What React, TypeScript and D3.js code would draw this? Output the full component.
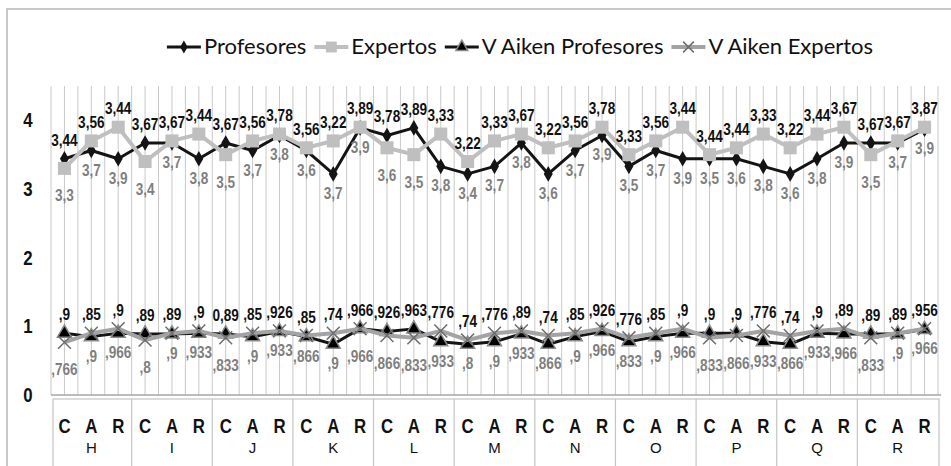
import React from 'react';
import * as d3 from 'd3';

const groups = ['H', 'I', 'J', 'K', 'L', 'M', 'N', 'O', 'P', 'Q', 'R'];
const subCats = ['C', 'A', 'R'];

const profesores = [
  3.44, 3.56, 3.44, 3.67, 3.67, 3.44, 3.67, 3.56, 3.78, 3.56, 3.22, 3.89, 3.78, 3.89, 3.33, 3.22, 3.33,
  3.67, 3.22, 3.56, 3.78, 3.33, 3.56, 3.44, 3.44, 3.44, 3.33, 3.22, 3.44, 3.67, 3.67, 3.67, 3.87
];
const expertos = [
  3.3, 3.7, 3.9, 3.4, 3.7, 3.8, 3.5, 3.7, 3.8, 3.6, 3.7, 3.9, 3.6, 3.5, 3.8, 3.4, 3.7, 3.8, 3.6, 3.7,
  3.9, 3.5, 3.7, 3.9, 3.5, 3.6, 3.8, 3.6, 3.8, 3.9, 3.5, 3.7, 3.9
];
const aikenProfesores = [
  0.9, 0.85, 0.9, 0.89, 0.89, 0.9, 0.89, 0.85, 0.926, 0.85, 0.74, 0.966, 0.926, 0.963, 0.776, 0.74, 0.776,
  0.89, 0.74, 0.85, 0.926, 0.776, 0.85, 0.9, 0.9, 0.9, 0.776, 0.74, 0.9, 0.89, 0.89, 0.89, 0.956
];
const aikenExpertos = [
  0.766, 0.9, 0.966, 0.8, 0.9, 0.933, 0.833, 0.9, 0.933, 0.866, 0.9, 0.966, 0.866, 0.833, 0.933, 0.8, 0.9,
  0.933, 0.866, 0.9, 0.966, 0.833, 0.9, 0.966, 0.833, 0.866, 0.933, 0.866, 0.933, 0.966, 0.833, 0.9, 0.966
];
// one label in the source is written with a leading zero
const aikenProfLabelOverrides: Record<number, string> = { 6: '0,89' };
const yTicks = [0, 1, 2, 3, 4];
const legendNames = ['Profesores', 'Expertos', 'V Aiken Profesores', 'V Aiken Expertos'];

// no narrow face installed: squeeze Liberation Sans horizontally instead
const sans = '"Liberation Sans", Arial, sans-serif';
const squeeze = 0.8;
const at = (px: number, py: number) => `translate(${px},${py}) scale(${squeeze},1)`;

const App: React.FC = () => {
  const ref = React.useRef<HTMLDivElement>(null);

  React.useEffect(() => {
    const W = 951;
    const H = 466;
    const left = 51;
    const right = 938;
    const top = 86;
    const bottom = 395;

    d3.select(ref.current).selectAll('*').remove();
    const svg = d3
      .select(ref.current)
      .append('svg')
      .attr('width', W)
      .attr('height', H)
      .style('display', 'block');

    svg.append('rect').attr('width', W).attr('height', H).attr('fill', '#fff');
    svg
      .append('rect')
      .attr('x', 7)
      .attr('y', 9)
      .attr('width', W + 10)
      .attr('height', H + 10)
      .attr('fill', 'none')
      .attr('stroke', '#b8b8b8')
      .attr('stroke-width', 1.5);

    const cats = d3.range(profesores.length);
    const x = d3.scaleBand<number>().domain(cats).range([left, right]).padding(0);
    const bw = x.bandwidth();
    const cx = (i: number) => (x(i) as number) + bw / 2;
    const y = d3.scaleLinear().domain([0, 4.5]).range([bottom, top]);

    // vertical gridlines (category boundaries and centres)
    svg
      .append('g')
      .selectAll('line')
      .data(d3.range(cats.length * 2 + 1))
      .enter()
      .append('line')
      .attr('x1', (k: number) => left + (k * bw) / 2)
      .attr('x2', (k: number) => left + (k * bw) / 2)
      .attr('y1', y(4.5))
      .attr('y2', y(0))
      .attr('stroke', '#c9c9c9')
      .attr('stroke-width', 1);

    svg
      .append('line')
      .attr('x1', left)
      .attr('x2', right + 3)
      .attr('y1', y(0))
      .attr('y2', y(0))
      .attr('stroke', '#a6a6a6')
      .attr('stroke-width', 1.5);

    // y tick labels
    svg
      .append('g')
      .selectAll('text')
      .data(yTicks)
      .enter()
      .append('text')
      .attr('transform', (d: number) => at(28, y(d) + 7))
      .attr('text-anchor', 'middle')
      .attr('font-family', sans)
      .attr('font-weight', 'bold')
      .attr('font-size', 21)
      .attr('fill', '#111')
      .text((d: number) => String(d));

    // category table
    const tableTop = 399;
    const tg = svg.append('g');
    tg.append('rect')
      .attr('x', left + 2)
      .attr('y', tableTop)
      .attr('width', right - left - 1)
      .attr('height', H)
      .attr('fill', 'none')
      .attr('stroke', '#c4c4c4')
      .attr('stroke-width', 1.2);
    tg.selectAll('line.div')
      .data(d3.range(1, groups.length))
      .enter()
      .append('line')
      .attr('x1', (g: number) => x(g * 3) as number)
      .attr('x2', (g: number) => x(g * 3) as number)
      .attr('y1', tableTop)
      .attr('y2', H)
      .attr('stroke', '#c4c4c4')
      .attr('stroke-width', 1.2);
    tg.selectAll('text.sub')
      .data(cats)
      .enter()
      .append('text')
      .attr('transform', (i: number) => at(cx(i), 433))
      .attr('text-anchor', 'middle')
      .attr('font-family', sans)
      .attr('font-weight', 'bold')
      .attr('font-size', 21)
      .attr('fill', '#111')
      .text((i: number) => subCats[i % 3]);
    tg.selectAll('text.grp')
      .data(groups)
      .enter()
      .append('text')
      .attr('x', (_: string, g: number) => cx(g * 3 + 1))
      .attr('y', 453)
      .attr('text-anchor', 'middle')
      .attr('font-family', sans)
      .attr('font-size', 15)
      .attr('fill', '#111')
      .text((g: string) => g);

    const series = [
      { values: profesores, color: '#141414', width: 3, symbol: d3.symbolDiamond, size: 70, fill: '#141414', edge: 'none' },
      { values: expertos, color: '#bfbfbf', width: 4, symbol: d3.symbolSquare, size: 170, fill: '#bfbfbf', edge: 'none' },
      { values: aikenProfesores, color: '#141414', width: 3, symbol: d3.symbolTriangle, size: 85, fill: '#000', edge: '#8a8a8a' },
      { values: aikenExpertos, color: '#a3a3a3', width: 4, symbol: d3.symbolTimes, size: 110, fill: 'none', edge: '#6e6e6e' }
    ];

    const line = (vals: number[]) =>
      d3
        .line<number>()
        .x((_: number, i: number) => cx(i))
        .y((d: number) => y(d))(vals);

    series.forEach((s) => {
      svg
        .append('path')
        .attr('d', line(s.values))
        .attr('fill', 'none')
        .attr('stroke', s.color)
        .attr('stroke-width', s.width)
        .attr('stroke-linejoin', 'round');
      svg
        .append('g')
        .selectAll('path')
        .data(s.values)
        .enter()
        .append('path')
        .attr('transform', (d: number, i: number) => `translate(${cx(i)},${y(d)})`)
        .attr('d', d3.symbol().type(s.symbol).size(s.size)())
        .attr('fill', s.fill)
        .attr('stroke', s.edge)
        .attr('stroke-width', 1.5);
    });

    const fmtMain = (v: number) => String(v).replace('.', ',');
    const fmtAiken = (v: number) => String(v).replace(/^0\./, ',');

    // labels: black series above the higher point, grey series below the lower point
    const labelPair = (
      upper: number[],
      lower: number[],
      fmt: (v: number) => string,
      overrides: Record<number, string>
    ) => {
      const g = svg.append('g').attr('font-family', sans).attr('font-weight', 'bold').attr('font-size', 17);
      cats.forEach((i: number) => {
        const yu = y(upper[i]);
        const yl = y(lower[i]);
        const high = Math.min(yu, yl);
        const low = Math.max(yu, yl);
        g.append('text')
          .attr('transform', at(cx(i), high - 13))
          .attr('text-anchor', 'middle')
          .attr('fill', '#111')
          .text(overrides[i] ?? fmt(upper[i]));
        g.append('text')
          .attr('transform', at(cx(i), low + (yl >= yu ? 33 : 25)))
          .attr('text-anchor', 'middle')
          .attr('fill', '#7f7f7f')
          .text(fmt(lower[i]));
      });
    };
    labelPair(profesores, expertos, fmtMain, {});
    labelPair(aikenProfesores, aikenExpertos, fmtAiken, aikenProfLabelOverrides);

    // legend
    const lg = svg.append('g');
    const ly = 47;
    let lx = 0;
    series.forEach((s, k) => {
      const it = lg.append('g').attr('transform', `translate(${lx},${ly})`);
      it.append('line')
        .attr('x1', 0)
        .attr('x2', 34)
        .attr('y1', 0)
        .attr('y2', 0)
        .attr('stroke', s.color)
        .attr('stroke-width', s.width);
      it.append('path')
        .attr('transform', 'translate(17,0)')
        .attr('d', d3.symbol().type(s.symbol).size(s.size * 0.7)())
        .attr('fill', s.fill)
        .attr('stroke', s.edge)
        .attr('stroke-width', 1.5);
      const t = it
        .append('text')
        .attr('x', 37)
        .attr('y', 7)
        .attr('font-family', 'Lato, "Open Sans", sans-serif')
        .attr('font-size', 22)
        .attr('fill', '#111')
        .text(legendNames[k]);
      const tw = (t.node() as SVGTextElement).getComputedTextLength();
      lx += 37 + tw + 8;
    });
    const total = lx - 8;
    lg.attr('transform', `translate(${520 - total / 2},0)`);
  }, []);

  return <div ref={ref} style={{ position: 'absolute', left: 0, top: 0 }}></div>;
};

export default App;
